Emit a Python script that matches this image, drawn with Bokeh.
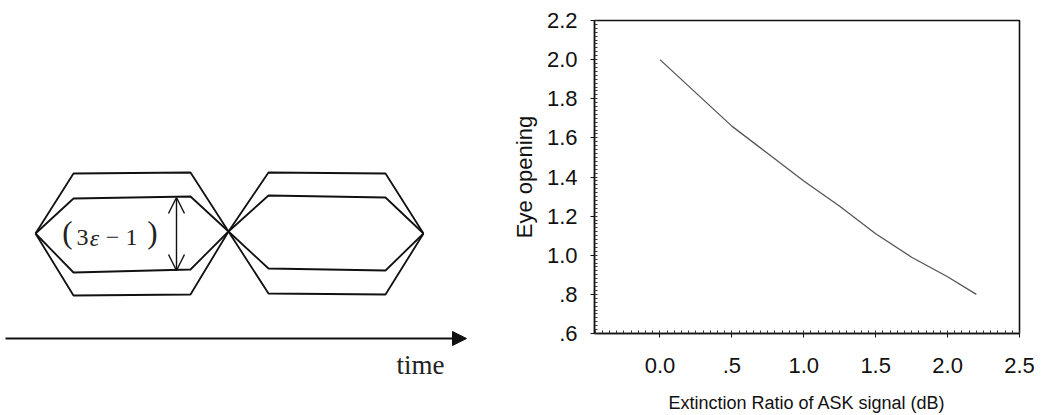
import numpy as np
from bokeh.plotting import figure
from bokeh.models import (Range1d, FixedTicker, CustomJSTickFormatter, Arrow,
                          OpenHead, NormalHead)
from bokeh.embed import file_html
from bokeh.resources import INLINE
from bokeh.core.properties import value

# ---- Eye opening versus extinction ratio ----
extinction_db = [0.0, 0.25, 0.5, 0.75, 1.0, 1.25, 1.5, 1.75, 2.0, 2.2]
eye_opening = [2.00, 1.83, 1.66, 1.52, 1.38, 1.25, 1.11, 0.99, 0.89, 0.80]
x_ticks = [0.0, 0.5, 1.0, 1.5, 2.0, 2.5]
y_ticks = [0.6, 0.8, 1.0, 1.2, 1.4, 1.6, 1.8, 2.0, 2.2]
x_label = "Extinction Ratio of ASK signal (dB)"
y_label = "Eye opening"

# ---- Schematic eye diagram (panel pixels, y grows downward) ----
trace_x = [35, 73, 190, 228, 268, 385, 423]
trace_outer_fall = [233, 173, 172, 231, 293, 294, 233]
trace_outer_rise = [233, 295, 294, 231, 172, 173, 233]
trace_inner_fall = [233, 198, 196, 231, 268, 270, 233]
trace_inner_rise = [233, 272, 269, 231, 195, 197, 233]
opening_x = 176
opening_top, opening_bottom = 197, 270
time_axis_y = 338
time_axis_x = [5, 466]

SANS = "Liberation Sans"
SERIF = "Liberation Serif"
INK = "#111111"
TEXT = "#222222"
HEIGHT = 415

# Left panel: eye diagram drawing, one data unit = one pixel
left = figure(width=480, height=HEIGHT,
              x_range=Range1d(0, 480), y_range=Range1d(HEIGHT, 0),
              x_axis_type=None, y_axis_type=None,
              min_border_left=0, min_border_right=0,
              min_border_top=0, min_border_bottom=0,
              toolbar_location=None, output_backend="svg")
left.outline_line_color = None
left.background_fill_color = "white"
left.border_fill_color = "white"

left.multi_line(xs=[trace_x] * 4,
                ys=[trace_outer_fall, trace_outer_rise, trace_inner_fall, trace_inner_rise],
                line_color=INK, line_width=1.8)

left.add_layout(Arrow(x_start=opening_x, y_start=opening_bottom,
                      x_end=opening_x, y_end=opening_top,
                      start=OpenHead(size=16, line_width=1.4, line_color=INK),
                      end=OpenHead(size=16, line_width=1.4, line_color=INK),
                      line_width=1.4, line_color=INK))

# "(3ε − 1)" label built from pieces so the epsilon can be italic
left.text(x=[67, 152], y=[232, 232], text=["(", ")"], text_font=value(SERIF),
          text_font_size="31px", text_align="center", text_baseline="middle",
          text_color=TEXT)
left.text(x=[82, 112, 131], y=[237, 237, 237], text=["3", "−", "1"], text_font=value(SERIF),
          text_font_size="24px", text_align="center", text_baseline="middle",
          text_color=TEXT)
left.text(x=[94], y=[237], text=["ε"], text_font=value(SERIF), text_font_size="24px",
          text_font_style="italic", text_align="center", text_baseline="middle",
          text_color=TEXT)

left.add_layout(Arrow(x_start=time_axis_x[0], y_start=time_axis_y,
                      x_end=time_axis_x[1], y_end=time_axis_y,
                      end=NormalHead(size=14, fill_color=INK, line_color=INK),
                      line_width=2, line_color=INK))
left.text(x=[420], y=[364], text=["time"], text_font=value(SERIF), text_font_size="27px",
          text_align="center", text_baseline="middle", text_color=TEXT)

# Right panel: eye opening curve
right = figure(width=567, height=HEIGHT, x_range=Range1d(-0.455, 2.5), y_range=Range1d(0.6, 2.2),
               min_border_left=114, min_border_right=28,
               min_border_top=20, min_border_bottom=82,
               toolbar_location=None, output_backend="svg")
right.grid.visible = False
right.outline_line_color = INK
right.outline_line_width = 1.6
right.background_fill_color = "white"

right.line(extinction_db, eye_opening, line_color="#555555", line_width=1.3)

fmt = CustomJSTickFormatter(code="""
    const s = tick.toFixed(1);
    return (s.startsWith('0.') && s !== '0.0') ? s.slice(1) : s;
""")

right.xaxis.ticker = FixedTicker(ticks=x_ticks,
                                 minor_ticks=list(np.round(np.arange(-0.45, 2.5001, 0.05), 3)))
right.yaxis.ticker = FixedTicker(ticks=y_ticks,
                                 minor_ticks=list(np.round(np.arange(0.6, 2.2001, 0.02), 3)))
for ax in (right.xaxis, right.yaxis):
    ax.formatter = fmt
    ax.axis_line_color = INK
    ax.axis_line_width = 1.3
    ax.major_tick_line_color = INK
    ax.major_tick_out = 4
    ax.major_tick_in = 0
    ax.minor_tick_line_color = "#333333"
    ax.minor_tick_in = 3
    ax.minor_tick_out = 0
    ax.major_label_text_font = SANS
    ax.major_label_text_font_size = "22px"
    ax.major_label_text_color = INK
    ax.axis_label_text_font = SANS
    ax.axis_label_text_font_style = "normal"
    ax.axis_label_text_color = INK

right.xaxis.axis_label = x_label
right.xaxis.axis_label_text_font_size = "18px"
right.xaxis.major_label_standoff = 20
right.xaxis.axis_label_standoff = 17

right.yaxis.axis_label = y_label
right.yaxis.axis_label_text_font_size = "22px"
right.yaxis.major_label_standoff = 13
right.yaxis.axis_label_standoff = 7

# the two panels are separate roots laid side by side, each with its own frame
side_by_side = """
{% block postamble %}
<style>
  body { display: flex; flex-direction: row; align-items: flex-start; }
</style>
{% endblock %}
"""

open("out.html", "w").write(file_html([left, right], INLINE, template=side_by_side))
